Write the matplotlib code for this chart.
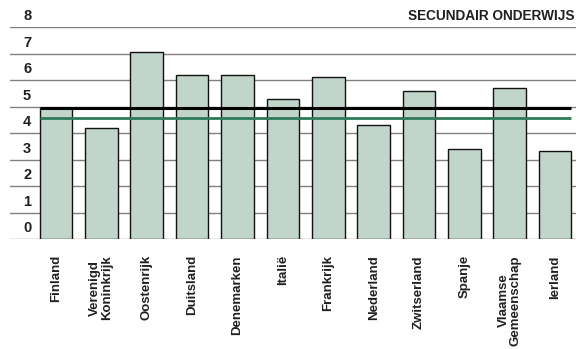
import matplotlib.pyplot as plt

landen = ["Finland", "Verenigd\nKoninkrijk", "Oostenrijk", "Duitsland", "Denemarken",
          "Italië", "Frankrijk", "Nederland", "Zwitserland", "Spanje",
          "Vlaamse\nGemeenschap", "Ierland"]
waarden = [4.95, 4.2, 7.06, 6.2, 6.19, 5.29, 6.12, 4.3, 5.6, 3.41, 5.72, 3.34]
gemiddelde_zwart = 4.94
gemiddelde_groen = 4.57
yticks = [0, 1, 2, 3, 4, 5, 6, 7, 8]

plt.rcParams['font.family'] = ['Liberation Sans', 'DejaVu Sans']
TEKST = '#231f20'

fig = plt.figure(figsize=(5.76, 3.49), dpi=100)
ax = fig.add_axes([10 / 576, 1 - 239.3 / 349, 1 - 10 / 576, (239.3 - 27.3) / 349])
ax.set_xlim(-1.014, 11.46)
ax.set_ylim(0, 8)
ax.axis('off')

# rasterlijnen met de labels erboven
for v in yticks:
    ax.axhline(v, color='#808080', lw=1.0, zorder=1)
    ax.text(-0.727, v + 0.42, str(v), ha='left', va='center',
            fontsize=10.5, fontweight='bold', color=TEKST)

x = list(range(len(landen)))
ax.bar(x, waarden, width=0.717, color='#c1d5ca', edgecolor='#111111',
       linewidth=1.0, zorder=2)

ax.hlines(gemiddelde_zwart, -0.36, 11.35, color='#000000', lw=2.2, zorder=3)
ax.hlines(gemiddelde_groen, -0.36, 11.35, color='#2e7a5a', lw=2.0, zorder=3)

for i, naam in enumerate(landen):
    ax.text(i, -0.6, naam, rotation=90, ha='center', va='top',
            multialignment='center', fontsize=9.5, fontweight='bold',
            color=TEKST, linespacing=1.0)

fig.text(575 / 576, 1 - 16 / 349, "SECUNDAIR ONDERWIJS", ha='right', va='center',
         fontsize=9.8, fontweight='bold', color=TEKST)

fig.savefig("out.png", dpi=100)
